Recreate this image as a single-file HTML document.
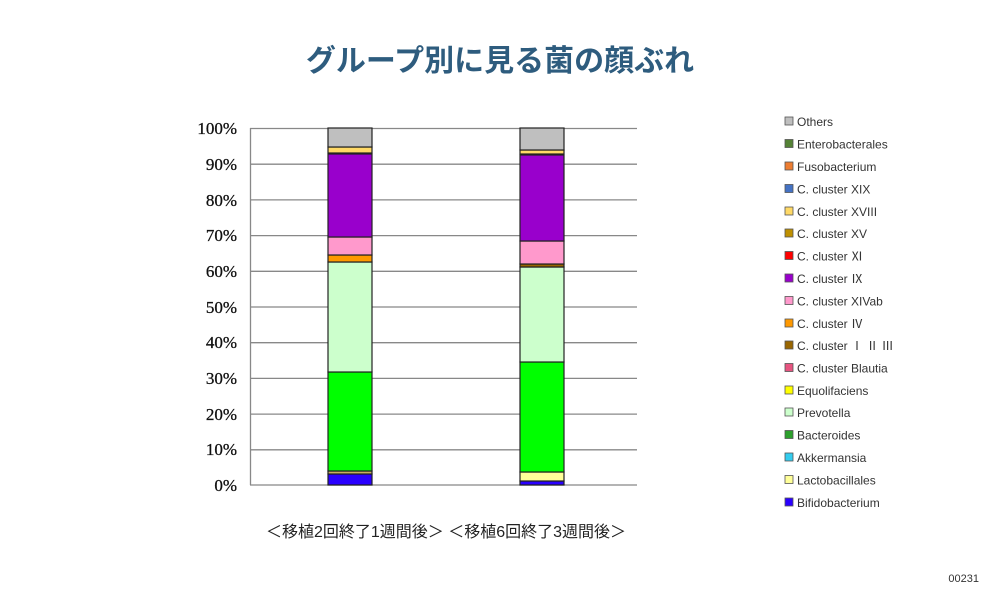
<!DOCTYPE html>
<html><head><meta charset="utf-8"><style>
body{margin:0;background:#fff;}
svg{display:block}
</style></head><body>
<svg width="1000" height="600" xmlns="http://www.w3.org/2000/svg">
<rect width="1000" height="600" fill="#fff"/>
<text x="500" y="71" text-anchor="middle" font-family="'Liberation Sans','Noto Sans CJK JP',sans-serif" font-size="30" font-weight="bold" fill="#2e5c7e">グループ別に見る菌の顔ぶれ</text>
<g stroke="#888" stroke-width="1.3">
<line x1="250" y1="128.5" x2="637" y2="128.5"/>
<line x1="250" y1="164.2" x2="637" y2="164.2"/>
<line x1="250" y1="199.9" x2="637" y2="199.9"/>
<line x1="250" y1="235.6" x2="637" y2="235.6"/>
<line x1="250" y1="271.3" x2="637" y2="271.3"/>
<line x1="250" y1="307" x2="637" y2="307"/>
<line x1="250" y1="342.7" x2="637" y2="342.7"/>
<line x1="250" y1="378.4" x2="637" y2="378.4"/>
<line x1="250" y1="414.1" x2="637" y2="414.1"/>
<line x1="250" y1="449.8" x2="637" y2="449.8"/>
<line x1="250" y1="485" x2="637" y2="485"/>
<line x1="250.5" y1="128" x2="250.5" y2="485"/>
</g>
<g font-family="'Liberation Serif',serif" font-size="17" text-anchor="end" fill="#111" stroke="#111" stroke-width="0.3">
<text x="237" y="134">100%</text><text x="237" y="170">90%</text><text x="237" y="206">80%</text>
<text x="237" y="241">70%</text><text x="237" y="277">60%</text><text x="237" y="313">50%</text>
<text x="237" y="348">40%</text><text x="237" y="384">30%</text><text x="237" y="420">20%</text>
<text x="237" y="455">10%</text><text x="237" y="491">0%</text>
</g>
<g stroke="#222" stroke-width="1.2">
<rect x="328" y="474" width="44" height="11" fill="#2a00ff"/>
<rect x="328" y="471" width="44" height="3" fill="#c8b060"/>
<rect x="328" y="372" width="44" height="99" fill="#00ff00"/>
<rect x="328" y="262" width="44" height="110" fill="#ccffcc"/>
<rect x="328" y="255" width="44" height="7" fill="#ff9900"/>
<rect x="328" y="237" width="44" height="18" fill="#ff99cc"/>
<rect x="328" y="154" width="44" height="83" fill="#9900cc"/>
<rect x="328" y="147" width="44" height="6" fill="#ffd966"/>
<rect x="328" y="128" width="44" height="19" fill="#bfbfbf"/>

<rect x="520" y="481" width="44" height="4" fill="#2a00ff"/>
<rect x="520" y="472" width="44" height="9" fill="#ffff99"/>
<rect x="520" y="362" width="44" height="110" fill="#00ff00"/>
<rect x="520" y="267" width="44" height="95" fill="#ccffcc"/>
<rect x="520" y="264" width="44" height="3" fill="#996600"/>
<rect x="520" y="241" width="44" height="23" fill="#ff99cc"/>
<rect x="520" y="155" width="44" height="86" fill="#9900cc"/>
<rect x="520" y="150" width="44" height="4" fill="#ffd966"/>
<rect x="520" y="128" width="44" height="22" fill="#bfbfbf"/>
</g>
<text x="446" y="537" text-anchor="middle" font-family="'Liberation Sans','Noto Sans CJK JP',sans-serif" font-size="16" fill="#222">＜移植2回終了1週間後＞ ＜移植6回終了3週間後＞</text>
<g font-family="'Liberation Sans','Noto Sans CJK JP',sans-serif" font-size="12" fill="#333" stroke-width="0.8">
<g stroke="#555">
<rect x="785" y="117" width="8" height="8" fill="#bfbfbf"/>
<rect x="785" y="139.5" width="8" height="8" fill="#548235"/>
<rect x="785" y="162" width="8" height="8" fill="#ed7d31"/>
<rect x="785" y="184.5" width="8" height="8" fill="#4472c4"/>
<rect x="785" y="207" width="8" height="8" fill="#ffd966"/>
<rect x="785" y="229" width="8" height="8" fill="#bf9000"/>
<rect x="785" y="251.5" width="8" height="8" fill="#ff0000"/>
<rect x="785" y="274" width="8" height="8" fill="#9900cc"/>
<rect x="785" y="296.5" width="8" height="8" fill="#ff99cc"/>
<rect x="785" y="319" width="8" height="8" fill="#ff9900"/>
<rect x="785" y="341" width="8" height="8" fill="#996600"/>
<rect x="785" y="363.5" width="8" height="8" fill="#e75480"/>
<rect x="785" y="386" width="8" height="8" fill="#ffff00"/>
<rect x="785" y="408" width="8" height="8" fill="#ccffcc"/>
<rect x="785" y="430.5" width="8" height="8" fill="#2ca02c"/>
<rect x="785" y="453" width="8" height="8" fill="#33ccee"/>
<rect x="785" y="475.5" width="8" height="8" fill="#ffff99"/>
<rect x="785" y="498" width="8" height="8" fill="#2a00ff"/>
</g>
<text x="797" y="126">Others</text>
<text x="797" y="148.5">Enterobacterales</text>
<text x="797" y="171">Fusobacterium</text>
<text x="797" y="193.5">C. cluster XIX</text>
<text x="797" y="216">C. cluster XVIII</text>
<text x="797" y="238">C. cluster XV</text>
<text x="797" y="260.5">C. cluster Ⅺ</text>
<text x="797" y="283">C. cluster Ⅸ</text>
<text x="797" y="305.5">C. cluster XIVab</text>
<text x="797" y="328">C. cluster Ⅳ</text>
<text x="797" y="350">C. cluster Ⅰ Ⅱ Ⅲ</text>
<text x="797" y="372.5">C. cluster Blautia</text>
<text x="797" y="395">Equolifaciens</text>
<text x="797" y="417">Prevotella</text>
<text x="797" y="439.5">Bacteroides</text>
<text x="797" y="462">Akkermansia</text>
<text x="797" y="484.5">Lactobacillales</text>
<text x="797" y="507">Bifidobacterium</text>
</g>
<text x="979" y="582" text-anchor="end" font-family="'Liberation Sans',sans-serif" font-size="11" fill="#333">00231</text>
</svg>
</body></html>
